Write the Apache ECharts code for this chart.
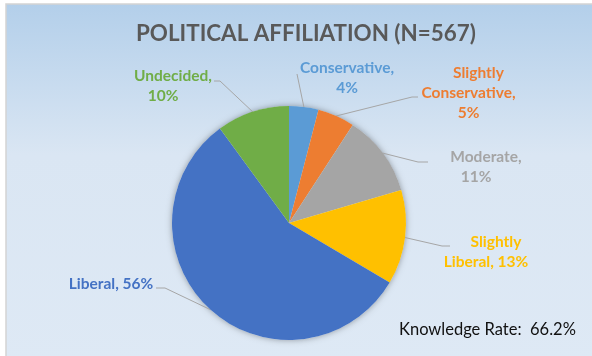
<!DOCTYPE html>
<html>
<head>
<meta charset="utf-8">
<script src="https://cdn.jsdelivr.net/npm/echarts@6/dist/echarts.min.js"></script>
<style>
  html, body { margin: 0; padding: 0; background: #ffffff; }
  #chart { width: 592px; height: 356px; }
</style>
</head>
<body>
<div id="chart"></div>
<script>
// Survey respondents by political affiliation (N = 567)
const categories = ['Conservative', 'Slightly Conservative', 'Moderate', 'Slightly Liberal', 'Liberal', 'Undecided'];
const counts = [23, 29, 64, 74, 320, 57];
const sliceColors = ['#5B9BD5', '#ED7D31', '#A5A5A5', '#FFC000', '#4472C4', '#70AD47'];
// label lines; the last one carries the percentage
const labelLines = [
  ['Conservative,', ''],
  ['Slightly', 'Conservative,', ''],
  ['Moderate,', ''],
  ['Slightly', 'Liberal, '],
  ['Liberal, '],
  ['Undecided,', '']
];
const titleText = 'POLITICAL AFFILIATION (N=567)';
const noteText = 'Knowledge Rate:  66.2%';

// where each label sits, per-line nudges, and the bend / end of its leader line
const labelPlacement = [
  { x: 347, y: 78, nudge: ['n', 'n'], end: [297, 74] },
  { x: 468.5, y: 93, nudge: ['sl', 'n', 'n'], elbow: [412, 97], end: [418, 97] },
  { x: 486, y: 167, nudge: ['n', 'sr'], elbow: [418, 162], end: [428, 162] },
  { x: 486, y: 252, nudge: ['sl', 'n'], elbow: [442, 246], end: [450, 246] },
  { x: 111, y: 284, nudge: ['n'], elbow: [165, 288], end: [156, 288] },
  { x: 173, y: 86, nudge: ['n', 'sr'], elbow: [220, 81], end: [214, 81] }
];

const total = counts.reduce((a, b) => a + b, 0);
const FONT = 'Lato';
const LABEL_SIZE = 15.5;

const chart = echarts.init(document.getElementById('chart'), null, { renderer: 'canvas' });

const pieData = categories.map((name, i) => ({
  name: name,
  value: counts[i],
  itemStyle: { color: sliceColors[i] },
  label: { color: sliceColors[i] }
}));

const tokenBase = { fontFamily: FONT, fontWeight: 'bold', fontSize: LABEL_SIZE, lineHeight: 20 };

chart.setOption({
  animation: false,
  graphic: [
    {
      type: 'rect',
      z: -10,
      silent: true,
      shape: { x: 6, y: 4, width: 600, height: 360 },
      style: {
        fill: new echarts.graphic.LinearGradient(0, 0, 0, 1, [
          { offset: 0, color: '#B3CFEA' },
          { offset: 0.42, color: '#DAE6F3' },
          { offset: 1, color: '#DEE9F5' }
        ]),
        stroke: '#D3D3D3',
        lineWidth: 1.5
      }
    },
    {
      type: 'text',
      z: 10,
      silent: true,
      left: 399,
      top: 321,
      style: {
        text: noteText,
        fill: '#111111',
        font: '16.5px ' + FONT
      }
    }
  ],
  title: {
    text: titleText,
    left: 131,
    top: 18,
    textStyle: {
      fontFamily: FONT,
      fontWeight: 'bold',
      fontSize: 22.4,
      color: '#595959'
    }
  },
  series: [
    {
      // soft shadow beneath the pie
      type: 'pie',
      silent: true,
      center: [289, 223],
      radius: 117,
      z: 1,
      label: { show: false },
      labelLine: { show: false },
      emphasis: { disabled: true },
      itemStyle: {
        color: '#DDE8F4',
        shadowBlur: 6,
        shadowColor: 'rgba(0,0,0,0.35)'
      },
      data: [{ value: 1 }]
    },
    {
      type: 'pie',
      center: [289, 223],
      radius: 117,
      startAngle: 90,
      clockwise: true,
      z: 2,
      emphasis: { disabled: true },
      itemStyle: { borderWidth: 0 },
      label: {
        show: true,
        position: 'outside',
        fontFamily: FONT,
        fontWeight: 'bold',
        fontSize: LABEL_SIZE,
        lineHeight: 20,
        align: 'center',
        rich: {
          n: Object.assign({}, tokenBase),
          sl: Object.assign({ padding: [0, 0, 0, 20] }, tokenBase),
          sr: Object.assign({ padding: [0, 20, 0, 0] }, tokenBase)
        },
        formatter: (p) => {
          const i = p.dataIndex;
          const pct = Math.round(p.value / total * 100) + '%';
          const lines = labelLines[i].slice();
          lines[lines.length - 1] += pct;
          return lines.map((t, k) => '{' + labelPlacement[i].nudge[k] + '|' + t + '}').join('\n');
        }
      },
      labelLine: {
        show: true,
        lineStyle: { color: '#A6A6A6', width: 1 }
      },
      labelLayout: (params) => {
        const lp = labelPlacement[params.dataIndex];
        const edge = params.labelLinePoints && params.labelLinePoints[0];
        const pts = [edge];
        if (lp.elbow) pts.push(lp.elbow);
        pts.push(lp.end);
        return {
          x: lp.x,
          y: lp.y,
          align: 'center',
          verticalAlign: 'middle',
          labelLinePoints: pts
        };
      },
      data: pieData
    }
  ]
});
</script>
</body>
</html>
